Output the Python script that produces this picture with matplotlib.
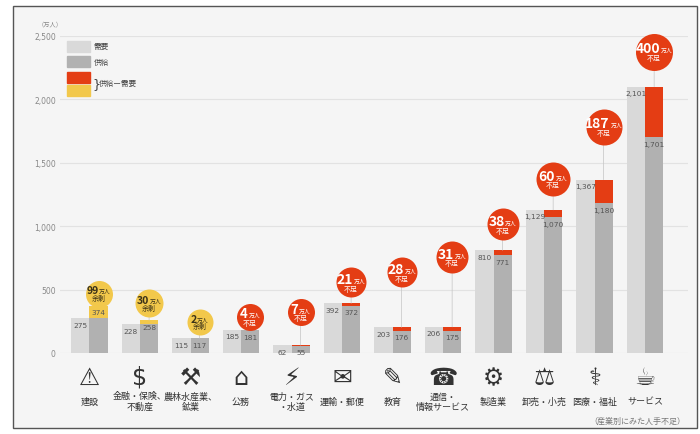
import matplotlib
matplotlib.use("Agg")
import matplotlib.pyplot as plt
from matplotlib.patches import Rectangle
from matplotlib.offsetbox import TextArea, HPacker, VPacker, AnnotationBbox
from matplotlib.transforms import offset_copy

plt.rcParams['font.family'] = ['Noto Sans CJK JP', 'DejaVu Sans']

# --- data (万人) ---
categories = ["建設", "金融・保険、\n不動産", "農林水産業、\n鉱業", "公務", "電力・ガス\n・水道",
              "運輸・郵便", "教育", "通信・\n情報サービス", "製造業", "卸売・小売", "医療・福祉", "サービス"]
demand = [275, 228, 115, 185, 62, 392, 203, 206, 810, 1129, 1367, 2101]
supply = [374, 258, 117, 181, 55, 372, 176, 175, 771, 1070, 1180, 1701]
gap_labels = ["99", "30", "2", "4", "7", "21", "28", "31", "38", "60", "187", "400"]
icons = ["⚠", "$", "⚒", "⌂", "⚡", "✉", "✎", "☎", "⚙", "⚖", "⚕", "☕"]
yticks = [0, 500, 1000, 1500, 2000, 2500]

# --- layout / style ---
bubble_rise_px = [12, 17, 16, 13, 33, 21, 55, 70, 26, 31, 53, 35]
bubble_r_px = [13.5, 14, 13, 13.5, 13.5, 15, 15, 16, 16, 17, 18, 18.5]

C_DEMAND = "#d9d9d9"
C_SUPPLY = "#b1b1b1"
C_RED = "#e43d14"
C_YELLOW = "#f2c84b"
C_BG = "#f5f5f5"
W, H = 700, 435
PT = 0.72  # points per pixel at 100 dpi


def fx(px):
    return px / W


def fy(py):
    return 1 - py / H


fig = plt.figure(figsize=(7, 4.35), dpi=100)
fig.patch.set_facecolor("white")
fig.add_artist(Rectangle((fx(13), fy(429)), fx(697) - fx(13), fy(7) - fy(429),
                         transform=fig.transFigure, facecolor=C_BG,
                         edgecolor="#555555", lw=1.0, zorder=0))

ax = fig.add_axes([fx(60), fy(354), fx(688) - fx(60), fy(37) - fy(354)])
ax.set_facecolor("none")
ax.set_xlim(-0.584, 11.85)
ax.set_ylim(0, 2500)
for s in ax.spines.values():
    s.set_visible(False)
ax.set_yticks(yticks)
ax.set_yticklabels([f"{t:,}" for t in yticks], fontsize=5.5, color="#888888",
                   family=["DejaVu Sans"])
ax.tick_params(axis="y", length=0, pad=3)
ax.set_xticks([])
ax.grid(axis="y", color="#e2e2e2", lw=0.8)
ax.set_axisbelow(True)

bw = 0.36
xs = list(range(len(categories)))
for i, (d, s) in enumerate(zip(demand, supply)):
    xd, xsup = i - bw / 2, i + bw / 2
    ax.bar(xd, d, width=bw, color=C_DEMAND, zorder=2)
    if s >= d:
        ax.bar(xsup, d, width=bw, color=C_SUPPLY, zorder=2)
        ax.bar(xsup, s - d, bottom=d, width=bw, color=C_YELLOW, zorder=2)
    else:
        ax.bar(xsup, s, width=bw, color=C_SUPPLY, zorder=2)
        ax.bar(xsup, d - s, bottom=s, width=bw, color=C_RED, zorder=2)
    for xv, v in ((xd, d), (xsup, s)):
        ax.annotate(f"{v:,}", xy=(xv, v), xytext=(0, -2.5), textcoords="offset points",
                    ha="center", va="top", fontsize=5.3, color="#555555",
                    family=["DejaVu Sans"], zorder=4)

    # bubble
    top = max(d, s)
    rise = bubble_rise_px[i] * PT
    surplus = s > d
    fc = C_YELLOW if surplus else C_RED
    tc = "#3b3218" if surplus else "white"
    ax.annotate("", xy=(xsup, top), xytext=(0, rise), textcoords="offset points",
                arrowprops=dict(arrowstyle="-", color="#c4c4c4", lw=0.5,
                                shrinkA=0, shrinkB=0), zorder=3)
    tr = offset_copy(ax.transData, fig=fig, x=0, y=rise, units="points")
    ax.scatter([xsup], [top], s=(2 * bubble_r_px[i] * PT) ** 2, color=fc,
               transform=tr, zorder=5, clip_on=False, linewidths=0)
    nsize = 7.5 if surplus else (10 if len(gap_labels[i]) > 1 else 9.5)
    num = TextArea(gap_labels[i], textprops=dict(fontsize=nsize, fontweight="bold", color=tc))
    unit = TextArea("万人", textprops=dict(fontsize=4.2, color=tc))
    row = HPacker(children=[num, unit], align="baseline", pad=0, sep=0.5)
    sub = TextArea("余剰" if surplus else "不足", textprops=dict(fontsize=5, color=tc))
    box = VPacker(children=[row, sub], align="center", pad=0, sep=-1)
    ab = AnnotationBbox(box, (xsup, top), xybox=(0, rise), boxcoords="offset points",
                        frameon=False, box_alignment=(0.5, 0.5), zorder=6,
                        annotation_clip=False)
    ax.add_artist(ab)

    # icon + category label
    cx = fx(60 + (i + 0.584) * (628 / 12.434))
    fig.text(cx, fy(378), icons[i], ha="center", va="center", fontsize=17,
             color="#333333", family=["DejaVu Sans"])
    fig.text(cx, fy(402), categories[i], ha="center", va="center", fontsize=6.5,
             color="#333333", linespacing=1.15)

# legend
fig.add_artist(Rectangle((fx(67), fy(53)), fx(23), fy(0) - fy(11), color=C_DEMAND,
                         transform=fig.transFigure))
fig.add_artist(Rectangle((fx(67), fy(68)), fx(23), fy(0) - fy(11), color=C_SUPPLY,
                         transform=fig.transFigure))
fig.add_artist(Rectangle((fx(67), fy(84)), fx(23), fy(0) - fy(11), color=C_RED,
                         transform=fig.transFigure))
fig.add_artist(Rectangle((fx(67), fy(97)), fx(23), fy(0) - fy(11), color=C_YELLOW,
                         transform=fig.transFigure))
fig.text(fx(94), fy(47), "需要", fontsize=5.5, color="#444444", va="center")
fig.text(fx(94), fy(63), "供給", fontsize=5.5, color="#444444", va="center")
fig.text(fx(92), fy(84.5), "}", fontsize=9, color="#444444", va="center",
         family=["DejaVu Sans"])
fig.text(fx(99), fy(84), "供給ー需要", fontsize=5.5, color="#444444", va="center")

fig.text(fx(50), fy(24), "（万人）", fontsize=4.5, color="#888888", ha="center", va="center")
fig.text(fx(685), fy(421), "（産業別にみた人手不足）", fontsize=5.8, color="#777777",
         ha="right", va="center")

fig.savefig("out.png", dpi=100, facecolor="white")
